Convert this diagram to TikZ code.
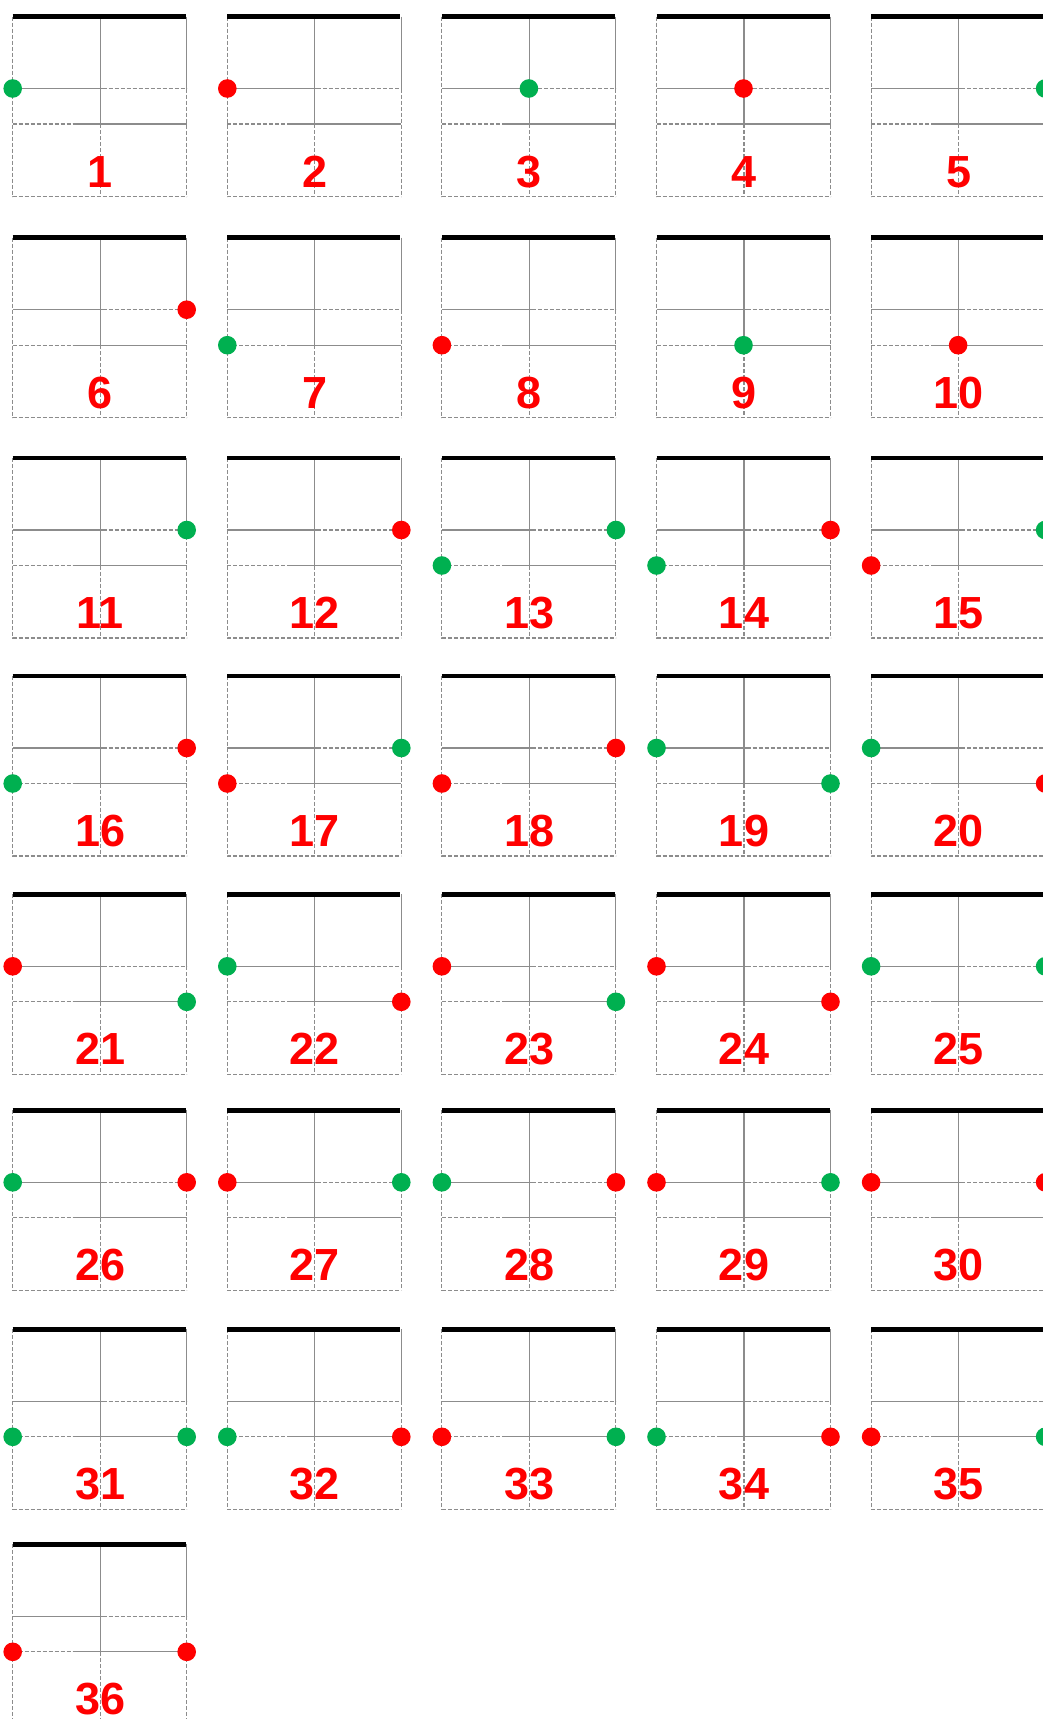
\documentclass[tikz,border=0pt]{standalone}
\usepackage{fontspec}
\newfontfamily\numfont{Liberation Sans}
\definecolor{boxgray}{RGB}{140,140,140}
\definecolor{dotgreen}{RGB}{0,176,80}
\definecolor{dotred}{RGB}{255,0,0}
\begin{document}
\begin{tikzpicture}[x=.5pt,y=-.5pt,
                    grid/.style={draw=boxgray,line width=.55pt},
                    dgrid/.style={grid,dash pattern=on 2pt off 1pt},
                    bar/.style={line width=2.35pt},
                    gdot/.style={circle,fill=dotgreen,inner sep=0pt,minimum size=9.3pt},
                    rdot/.style={circle,fill=dotred,inner sep=0pt,minimum size=9.3pt},
                    num/.style={anchor=base,inner sep=0pt,text=dotred,font={\numfont\bfseries\fontsize{22.5}{24}\selectfont}}]
 \useasboundingbox (0,0) rectangle (1043,1719);
 % the 36 boxes
 \foreach \n in {1,...,36}{
  \pgfmathsetmacro\bx{12.7+214.6*mod(\n-1,5)}
  \pgfmathsetmacro\by{{16.5,237.7,458,676,894.3,1110.3,1329.3,1544.3}[int((\n-1)/5)]}
  \begin{scope}[shift={(\bx,\by)}]
   \draw[dgrid] (0,0)--(0,180)--(174,180);
   \draw[grid] (174,0)--(174,72); \draw[dgrid] (174,72)--(174,180);
   \draw[grid] (87.5,0)--(87.5,107.5); \draw[dgrid] (87.5,107.5)--(87.5,180);
   \draw[grid] (0,72)--(90,72); \draw[dgrid] (90,72)--(174,72);
   \draw[dgrid] (0,107.5)--(60,107.5); \draw[grid] (60,107.5)--(174,107.5);
   \draw[bar] (0,0)--(173,0);
   \node[num] (n\n) at (87.5,170.5) {\n};
  \end{scope}}
 % the dots: box / side (0 left, 1 middle, 2 right) / line / colour
 \foreach \n/\s/\l/\c in {1/0/1/gdot, 2/0/1/rdot, 3/1/1/gdot, 4/1/1/rdot, 5/2/1/gdot,
   6/2/1/rdot, 7/0/2/gdot, 8/0/2/rdot, 9/1/2/gdot, 10/1/2/rdot,
   11/2/1/gdot, 12/2/1/rdot, 13/0/2/gdot, 13/2/1/gdot, 14/0/2/gdot, 14/2/1/rdot,
   15/0/2/rdot, 15/2/1/gdot, 16/0/2/gdot, 16/2/1/rdot, 17/0/2/rdot, 17/2/1/gdot,
   18/0/2/rdot, 18/2/1/rdot, 19/0/1/gdot, 19/2/2/gdot, 20/0/1/gdot, 20/2/2/rdot,
   21/0/1/rdot, 21/2/2/gdot, 22/0/1/gdot, 22/2/2/rdot, 23/0/1/rdot, 23/2/2/gdot,
   24/0/1/rdot, 24/2/2/rdot, 25/0/1/gdot, 25/2/1/gdot, 26/0/1/gdot, 26/2/1/rdot,
   27/0/1/rdot, 27/2/1/gdot, 28/0/1/gdot, 28/2/1/rdot, 29/0/1/rdot, 29/2/1/gdot,
   30/0/1/rdot, 30/2/1/rdot, 31/0/2/gdot, 31/2/2/gdot, 32/0/2/gdot, 32/2/2/rdot,
   33/0/2/rdot, 33/2/2/gdot, 34/0/2/gdot, 34/2/2/rdot, 35/0/2/rdot, 35/2/2/gdot,
   36/0/2/rdot, 36/2/2/rdot}{
  \pgfmathsetmacro\dx{12.7+214.6*mod(\n-1,5)+87*\s}
  \pgfmathsetmacro\dy{{16.5,237.7,458,676,894.3,1110.3,1329.3,1544.3}[int((\n-1)/5)]+72+35.5*(\l-1)}
  \node[\c] (d\n-\s) at (\dx,\dy) {};}
\end{tikzpicture}
\end{document}
